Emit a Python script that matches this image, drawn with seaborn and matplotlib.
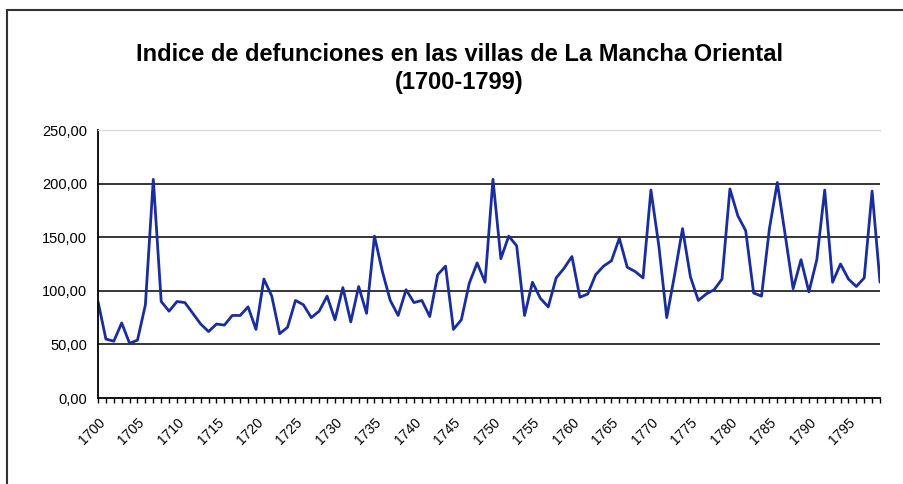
import matplotlib
matplotlib.use('Agg')
import matplotlib.pyplot as plt
import matplotlib.patches as mpatches
from matplotlib.ticker import MultipleLocator, FuncFormatter
import numpy as np
import pandas as pd
import seaborn as sns

## Datos
years = list(range(1700, 1800))
indice = [
    90, 55, 53, 70, 51, 54, 87, 204, 90, 81,
    90, 89, 79, 69, 62, 69, 68, 77, 77, 85,
    64, 111, 95, 60, 66, 91, 87, 75, 81, 95,
    73, 103, 71, 104, 79, 151, 118, 91, 77, 101,
    89, 91, 76, 115, 123, 64, 73, 107, 126, 108,
    204, 130, 151, 142, 77, 108, 93, 85, 112, 121,
    132, 94, 97, 115, 123, 128, 149, 122, 118, 112,
    194, 142, 75, 115, 158, 113, 91, 97, 101, 111,
    195, 170, 156, 98, 95, 158, 201, 152, 102, 129,
    99, 129, 194, 108, 125, 111, 104, 112, 193, 108,
]
yticks = [0, 50, 100, 150, 200, 250]
titulo = 'Indice de defunciones en las villas de La Mancha Oriental\n(1700-1799)'

df = pd.DataFrame({'anio': years, 'indice': indice})

##########################################################################

sns.set_style('white')
plt.rcParams['font.family'] = ['Liberation Sans', 'DejaVu Sans']

fig = plt.figure(figsize=(9.04, 4.84), dpi=100)
ax = fig.add_axes([98/904, 86/484, 782/904, 268/484])

sns.lineplot(data=df, x='anio', y='indice', color='#1a2d9c', linewidth=2.0, ax=ax)

ax.set_xlim(1700, 1799)
ax.set_ylim(0, 250)
ax.set_yticks(yticks)
ax.yaxis.set_major_formatter(FuncFormatter(lambda v, p: f'{v:.2f}'.replace('.', ',')))
ax.xaxis.set_major_locator(MultipleLocator(5))
ax.xaxis.set_minor_locator(MultipleLocator(1))
ax.set_xlabel('')
ax.set_ylabel('')

ax.grid(axis='y', color='black', linewidth=1.1)
ax.get_ygridlines()[-1].set_color('#dddddd')
ax.get_ygridlines()[0].set_visible(False)
ax.set_axisbelow(True)

for s in ['left', 'bottom']:
    ax.spines[s].set_color('black')
    ax.spines[s].set_linewidth(1.3)
ax.spines['right'].set_visible(False)
ax.spines['top'].set_color('#dddddd')
ax.spines['top'].set_linewidth(1.0)

ax.tick_params(axis='y', which='major', direction='out', length=4, width=1, color='black',
               labelsize=10.5, labelcolor='black', pad=4)
ax.tick_params(axis='x', which='both', direction='out', length=3.5, width=1, color='black',
               bottom=True, labelsize=10, labelcolor='black', pad=9)
plt.setp(ax.get_xticklabels(), rotation=45, ha='right', rotation_mode='anchor')

fig.text(0.508, 1 - 68.5/484, titulo, ha='center', va='center', fontsize=17,
         fontweight='bold', color='black', linespacing=1.3)

# marco del grafico
fig.patches.append(mpatches.Rectangle((7/904, -0.05), 1.0, 1 - 9.5/484 + 0.05,
                                      transform=fig.transFigure, fill=False,
                                      edgecolor='#333333', linewidth=1.5))

fig.savefig('out.png', dpi=100)
